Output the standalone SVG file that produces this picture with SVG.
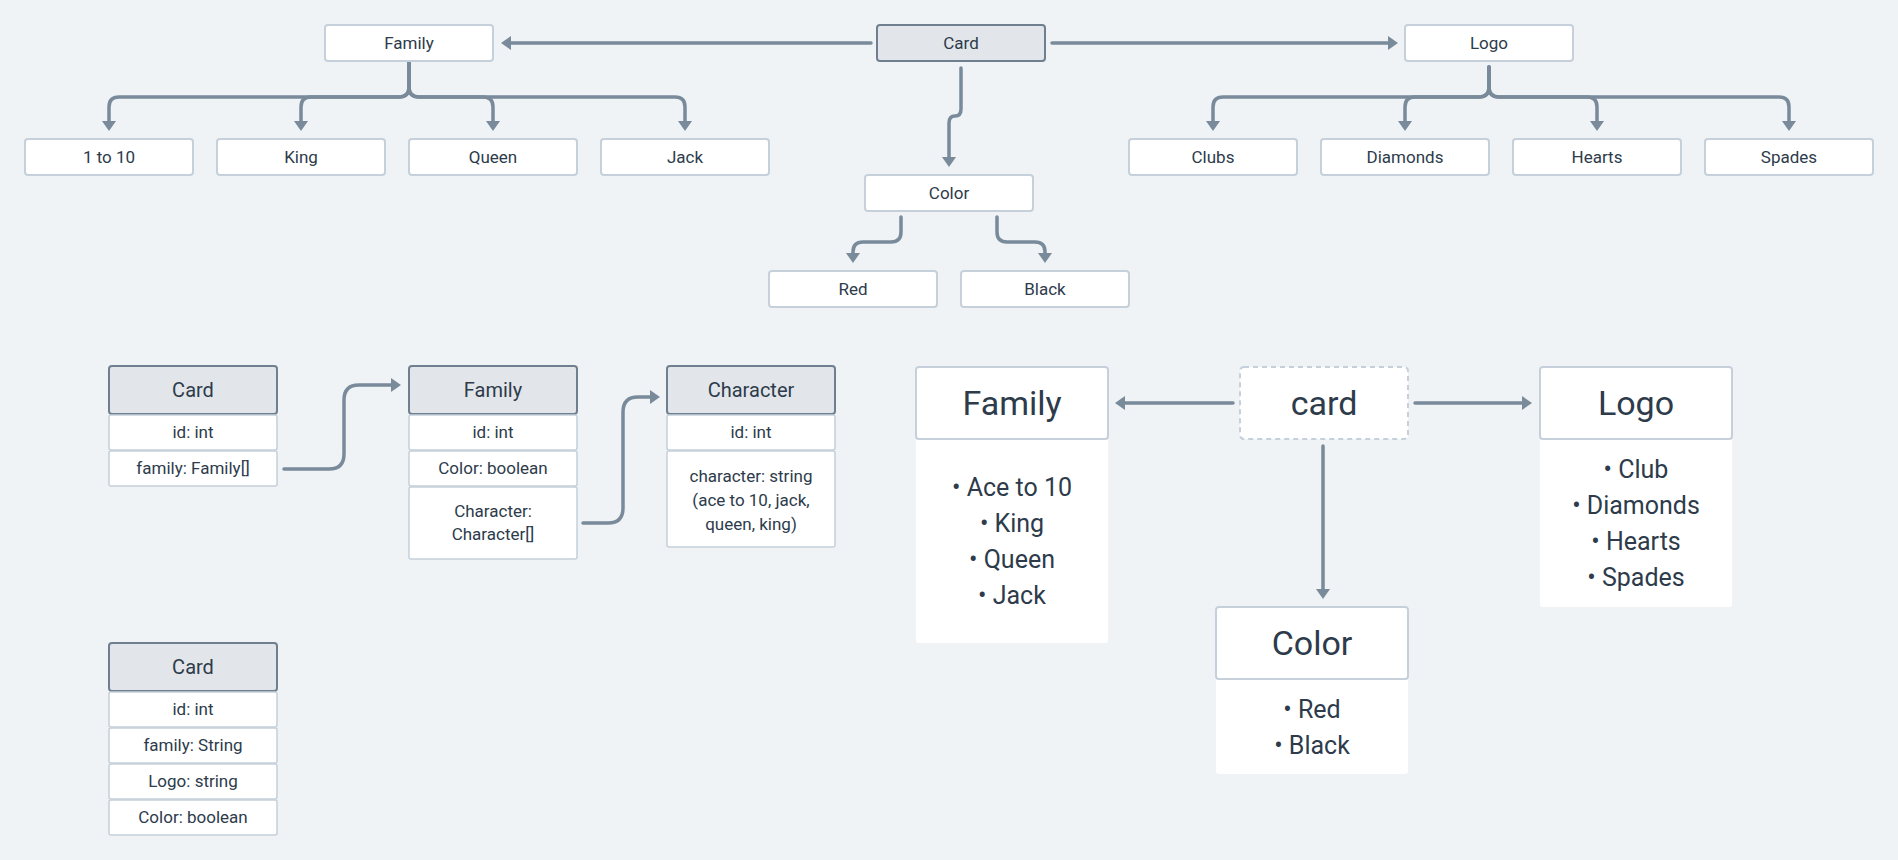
<svg xmlns="http://www.w3.org/2000/svg" width="1898" height="860" viewBox="0 0 1898 860">
<style>
text{font-family:Roboto,"Liberation Sans",sans-serif;fill:#2d3b4b;text-anchor:middle}
.box{fill:#ffffff;stroke:#c5d0da;stroke-width:2}
.hdr{fill:#e2e6ea;stroke:#6f7f8f;stroke-width:2}
.row{fill:#ffffff;stroke:#c5d0da;stroke-width:1.5}
.body{fill:#ffffff}
.dash{fill:#ffffff;stroke:#c5d0da;stroke-width:2;stroke-dasharray:5 4}
.t{font-size:17px}
.h{font-size:20px}
.big{font-size:34px}
.li{font-size:25px}
.c{fill:none;stroke:#798a9a;stroke-width:3.5;stroke-linecap:round;stroke-linejoin:round}
</style>
<defs>
<marker id="arr" markerUnits="userSpaceOnUse" markerWidth="10" markerHeight="14" viewBox="0 0 10 14" refX="2" refY="7" orient="auto">
<path d="M0,0 L10,7 L0,14 z" fill="#798a9a"/>
</marker>
</defs>
<rect width="1898" height="860" fill="#eff3f6"/>

<g id="connectors">
<path class="c" marker-end="url(#arr)" d="M871 43 L509 43"/>
<path class="c" marker-end="url(#arr)" d="M1052 43 L1390 43"/>
<path class="c" marker-end="url(#arr)" d="M409 61 L409 87 Q409 97 399 97 L119 97 Q109 97 109 107 L109 123"/>
<path class="c" marker-end="url(#arr)" d="M409 61 L409 87 Q409 97 399 97 L311 97 Q301 97 301 107 L301 123"/>
<path class="c" marker-end="url(#arr)" d="M409 61 L409 87 Q409 97 419 97 L483 97 Q493 97 493 107 L493 123"/>
<path class="c" marker-end="url(#arr)" d="M409 61 L409 87 Q409 97 419 97 L675 97 Q685 97 685 107 L685 123"/>
<path class="c" marker-end="url(#arr)" d="M1489 67 L1489 87 Q1489 97 1479 97 L1223 97 Q1213 97 1213 107 L1213 123"/>
<path class="c" marker-end="url(#arr)" d="M1489 67 L1489 87 Q1489 97 1479 97 L1415 97 Q1405 97 1405 107 L1405 123"/>
<path class="c" marker-end="url(#arr)" d="M1489 67 L1489 87 Q1489 97 1499 97 L1587 97 Q1597 97 1597 107 L1597 123"/>
<path class="c" marker-end="url(#arr)" d="M1489 67 L1489 87 Q1489 97 1499 97 L1779 97 Q1789 97 1789 107 L1789 123"/>
<path class="c" marker-end="url(#arr)" d="M961 68 L961 109 Q961 116 955 116 Q949 116 949 123 L949 159"/>
<path class="c" marker-end="url(#arr)" d="M901 217 L901 232 Q901 242 891 242 L863 242 Q853 242 853 252 L853 255"/>
<path class="c" marker-end="url(#arr)" d="M997 217 L997 232 Q997 242 1007 242 L1035 242 Q1045 242 1045 252 L1045 255"/>
<path class="c" marker-end="url(#arr)" d="M284 469 L329 469 Q344 469 344 454 L344 400 Q344 385 359 385 L393 385"/>
<path class="c" marker-end="url(#arr)" d="M583 523 L608 523 Q623 523 623 508 L623 412 Q623 397 638 397 L652 397"/>
<path class="c" marker-end="url(#arr)" d="M1233 403 L1123 403"/>
<path class="c" marker-end="url(#arr)" d="M1415 403 L1524 403"/>
<path class="c" marker-end="url(#arr)" d="M1323 446 L1323 591"/>
</g>

<g id="tree-card"><rect class="hdr" x="877" y="25" width="168" height="36" rx="3"/><text class="t" x="961" y="43" dy=".35em">Card</text></g>
<g id="tree-family"><rect class="box" x="325" y="25" width="168" height="36" rx="3"/><text class="t" x="409" y="43" dy=".35em">Family</text></g>
<g id="tree-logo"><rect class="box" x="1405" y="25" width="168" height="36" rx="3"/><text class="t" x="1489" y="43" dy=".35em">Logo</text></g>
<g id="tree-1to10"><rect class="box" x="25" y="139" width="168" height="36" rx="3"/><text class="t" x="109" y="157" dy=".35em">1 to 10</text></g>
<g id="tree-king"><rect class="box" x="217" y="139" width="168" height="36" rx="3"/><text class="t" x="301" y="157" dy=".35em">King</text></g>
<g id="tree-queen"><rect class="box" x="409" y="139" width="168" height="36" rx="3"/><text class="t" x="493" y="157" dy=".35em">Queen</text></g>
<g id="tree-jack"><rect class="box" x="601" y="139" width="168" height="36" rx="3"/><text class="t" x="685" y="157" dy=".35em">Jack</text></g>
<g id="tree-clubs"><rect class="box" x="1129" y="139" width="168" height="36" rx="3"/><text class="t" x="1213" y="157" dy=".35em">Clubs</text></g>
<g id="tree-diamonds"><rect class="box" x="1321" y="139" width="168" height="36" rx="3"/><text class="t" x="1405" y="157" dy=".35em">Diamonds</text></g>
<g id="tree-hearts"><rect class="box" x="1513" y="139" width="168" height="36" rx="3"/><text class="t" x="1597" y="157" dy=".35em">Hearts</text></g>
<g id="tree-spades"><rect class="box" x="1705" y="139" width="168" height="36" rx="3"/><text class="t" x="1789" y="157" dy=".35em">Spades</text></g>
<g id="tree-color"><rect class="box" x="865" y="175" width="168" height="36" rx="3"/><text class="t" x="949" y="193" dy=".35em">Color</text></g>
<g id="tree-red"><rect class="box" x="769" y="271" width="168" height="36" rx="3"/><text class="t" x="853" y="289" dy=".35em">Red</text></g>
<g id="tree-black"><rect class="box" x="961" y="271" width="168" height="36" rx="3"/><text class="t" x="1045" y="289" dy=".35em">Black</text></g>

<g id="table-card">
<rect class="hdr" x="109" y="366" width="168" height="48" rx="3"/><text class="h" x="193" y="390" dy=".35em">Card</text>
<rect class="row" x="109" y="415" width="168" height="35" rx="2"/><text class="t" x="193" y="432.5" dy=".35em">id: int</text>
<rect class="row" x="109" y="451" width="168" height="35" rx="2"/><text class="t" x="193" y="468.5" dy=".35em">family: Family[]</text>
</g>
<g id="table-family">
<rect class="hdr" x="409" y="366" width="168" height="48" rx="3"/><text class="h" x="493" y="390" dy=".35em">Family</text>
<rect class="row" x="409" y="415" width="168" height="35" rx="2"/><text class="t" x="493" y="432.5" dy=".35em">id: int</text>
<rect class="row" x="409" y="451" width="168" height="35" rx="2"/><text class="t" x="493" y="468.5" dy=".35em">Color: boolean</text>
<rect class="row" x="409" y="487" width="168" height="72" rx="2"/><text class="t" x="493" y="511.5" dy=".35em">Character:</text><text class="t" x="493" y="534.5" dy=".35em">Character[]</text>
</g>
<g id="table-character">
<rect class="hdr" x="667" y="366" width="168" height="48" rx="3"/><text class="h" x="751" y="390" dy=".35em">Character</text>
<rect class="row" x="667" y="415" width="168" height="35" rx="2"/><text class="t" x="751" y="432.5" dy=".35em">id: int</text>
<rect class="row" x="667" y="451" width="168" height="96" rx="2"/><text class="t" x="751" y="476" dy=".35em">character: string</text><text class="t" x="751" y="500" dy=".35em">(ace to 10, jack,</text><text class="t" x="751" y="524" dy=".35em">queen, king)</text>
</g>
<g id="table-card-flat">
<rect class="hdr" x="109" y="643" width="168" height="48" rx="3"/><text class="h" x="193" y="667" dy=".35em">Card</text>
<rect class="row" x="109" y="692" width="168" height="35" rx="2"/><text class="t" x="193" y="709.5" dy=".35em">id: int</text>
<rect class="row" x="109" y="728" width="168" height="35" rx="2"/><text class="t" x="193" y="745.5" dy=".35em">family: String</text>
<rect class="row" x="109" y="764" width="168" height="35" rx="2"/><text class="t" x="193" y="781.5" dy=".35em">Logo: string</text>
<rect class="row" x="109" y="800" width="168" height="35" rx="2"/><text class="t" x="193" y="817.5" dy=".35em">Color: boolean</text>
</g>

<g id="mind-card"><rect class="dash" x="1240" y="367" width="168" height="72" rx="4"/><text class="big" x="1324" y="403" dy=".35em">card</text></g>
<g id="mind-family">
<rect class="body" x="916" y="439" width="192" height="204" rx="3"/>
<rect class="box" x="916" y="367" width="192" height="72" rx="3"/><text class="big" x="1012" y="403" dy=".35em">Family</text>
<text class="li" x="1012" y="487" dy=".35em">• Ace to 10</text>
<text class="li" x="1012" y="523" dy=".35em">• King</text>
<text class="li" x="1012" y="559" dy=".35em">• Queen</text>
<text class="li" x="1012" y="595" dy=".35em">• Jack</text>
</g>
<g id="mind-logo">
<rect class="body" x="1540" y="439" width="192" height="168" rx="3"/>
<rect class="box" x="1540" y="367" width="192" height="72" rx="3"/><text class="big" x="1636" y="403" dy=".35em">Logo</text>
<text class="li" x="1636" y="469" dy=".35em">• Club</text>
<text class="li" x="1636" y="505" dy=".35em">• Diamonds</text>
<text class="li" x="1636" y="541" dy=".35em">• Hearts</text>
<text class="li" x="1636" y="577" dy=".35em">• Spades</text>
</g>
<g id="mind-color">
<rect class="body" x="1216" y="679" width="192" height="95" rx="3"/>
<rect class="box" x="1216" y="607" width="192" height="72" rx="3"/><text class="big" x="1312" y="643" dy=".35em">Color</text>
<text class="li" x="1312" y="709" dy=".35em">• Red</text>
<text class="li" x="1312" y="745" dy=".35em">• Black</text>
</g>
</svg>
